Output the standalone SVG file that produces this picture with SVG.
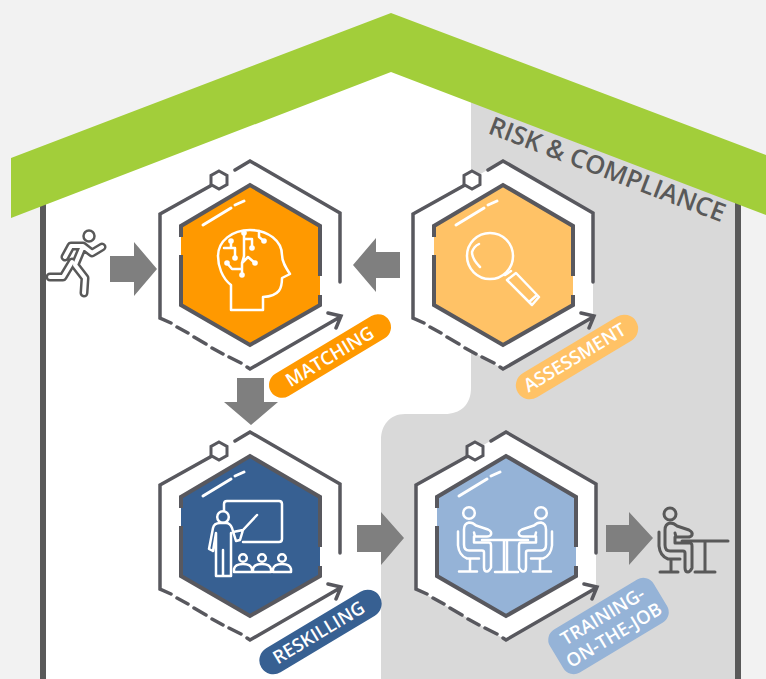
<svg xmlns="http://www.w3.org/2000/svg" width="766" height="679" viewBox="0 0 766 679">
<style>
.shell{fill:none;stroke:#58585e;stroke-width:3.500;stroke-linecap:round;stroke-linejoin:miter}
.lab{font-family:"Open Sans","Liberation Sans",sans-serif;font-weight:600;fill:#fff;text-anchor:middle;font-size:18.500px}
.ico{fill:none;stroke:#fff;stroke-width:2.500;stroke-linecap:round;stroke-linejoin:round}
.dot{fill:#fff;stroke:none}
.arr{fill:#7f7f7f}
.ol{fill:none;stroke:#595959;stroke-width:9;stroke-linecap:round;stroke-linejoin:round}
.il{fill:none;stroke:#fff;stroke-width:4;stroke-linecap:round;stroke-linejoin:round}
.sit{fill:none;stroke-width:3;stroke-linecap:round;stroke-linejoin:round}
</style>
<defs>
<g id="shell">
<polygon points="250,161 340,213 340,316 250,369 160,318 160,213" fill="#fff"/>
<path class="shell" d="M235,170L250,161L340,213V282M212,185L160,214V318L171,323M177,327L188,333M194,337L206,344M212,348L223,354M229,357L241,363M247,367L250,369L340,317M328,313L341,316L336,328"/>
<polygon points="219,171 227,175.500 227,184.500 219,189 211,184.500 211,175.500" fill="#fff" stroke="#58585e" stroke-width="3"/>
</g>
<g id="inner">
<path d="M250,185L320,226V305L250,345L181,305V226Z" stroke="none"/>
<path fill="none" stroke="#58585e" stroke-width="4" d="M181,237V226L250,185L320,226V276M320,295V305L250,345L181,305V255"/>
<path fill="none" stroke="#fff" stroke-width="3" stroke-linecap="round" d="M203,225L231,208M235,205L244,201"/>
</g>
<path id="figure" d="M659,532V546Q660,556 668,559H680M671,560V572M660,572H678M665,545V530Q665,524 670,523Q674,523 677,526L689,530Q693,532 692,535Q691,537 688,537H676L675,533M675,537V543H690Q692,543 692,546V568Q690,572 688,572Q685,572 685,568V553Q685,551 683,551H670Q665,551 665,545"/>
</defs>
<rect width="766" height="679" fill="#f2f2f2"/>
<polygon points="46,679 46,200 391,60 736,200 736,679" fill="#fff"/>
<path d="M471,90V388C471,405 460,414 445,414H405C390,414 381,425 381,440V679H735V200Z" fill="#d9d9d9"/>
<rect x="40" y="190" width="6" height="489" fill="#595959"/>
<rect x="735" y="190" width="6" height="489" fill="#595959"/>
<polygon points="391,13 766,155 766,215 391,72 11,218 11,158" fill="#a2ce3a"/>
<text transform="translate(487,133) rotate(20.900)" font-family="'Open Sans','Liberation Sans',sans-serif" font-weight="600" font-size="25.500" fill="#595959">RISK &amp; COMPLIANCE</text>

<g id="connectors">
<polygon class="arr" points="110,256 134,256 134,242 157,269 134,296 134,282 110,282"/>
<polygon class="arr" points="400,252 376,252 376,238 353,265 376,292 376,278 400,278"/>
<polygon class="arr" points="237,378 264,378 264,402 278,402 251,425 224,402 237,402"/>
<polygon class="arr" points="357,525 381,525 381,512 404,538 381,565 381,552 357,552"/>
<polygon class="arr" points="606,525 629,525 629,512 653,538 629,565 629,552 606,552"/>
</g>

<g id="runner">
<circle cx="89" cy="236" r="5.500" fill="#fff" stroke="#595959" stroke-width="2.500"/>
<path class="ol" d="M83,246H71L65,257M83,246L92,253L102,247M83,246L75,265L85,278L84,293M72,262L63,277H50"/>
<path class="il" d="M83,246H71L65,257M83,246L92,253L102,247M83,246L75,265L85,278L84,293M72,262L63,277H50"/>
</g>

<g id="matching">
<use href="#shell"/>
<use href="#inner" fill="#ff9900"/>
<g class="ico">
<path d="M231,310V285C222,278 218,266 218,256C218,241 232,230 250,230C268,230 282,241 282,255C282,262 286,268 290,274L282,278C282,288 280,296 263,297V310Z"/>
<path d="M224,248H235V258M231,241V248M244,233V256L242,263V275M244,239H252V248M227,263L232,269H242M242,263L248,257L255,263M259,231V237L264,241"/>
</g>
<circle class="dot" cx="231" cy="241" r="2.800"/><circle class="dot" cx="235" cy="258" r="2.800"/><circle class="dot" cx="244" cy="233" r="2.800"/><circle class="dot" cx="252" cy="248" r="2.800"/><circle class="dot" cx="227" cy="263" r="2.800"/><circle class="dot" cx="242" cy="275" r="2.800"/><circle class="dot" cx="255" cy="263" r="2.800"/><circle class="dot" cx="264" cy="241" r="2.800"/>
<rect x="261" y="343" width="138" height="26" rx="13" transform="rotate(-31 330 356)" fill="#ff9900"/>
<text class="lab" transform="translate(333,362) rotate(-31)">MATCHING</text>
</g>

<g id="assessment">
<use href="#shell" x="253"/>
<use href="#inner" x="253" fill="#ffc266"/>
<g class="ico">
<circle cx="490" cy="256" r="23"/>
<path d="M480,267C475,262 472,257 472,252C473,249 475,246 479,244M505,275L511,271M507,280L516,273L539,297L532,305Z M529,302L537,295"/>
</g>
<rect x="508" y="343" width="138" height="28" rx="14" transform="rotate(-31 577 357)" fill="#ffc266"/>
<text class="lab" transform="translate(578,363) rotate(-31)">ASSESSMENT</text>
</g>

<g id="reskilling">
<use href="#shell" y="271"/>
<use href="#inner" y="271" fill="#376092"/>
<g class="ico">
<path d="M224,510V504Q224,501 227,501H279Q282,501 282,504V539Q282,542 279,542H243"/>
<circle cx="223" cy="517" r="5.800"/>
<path d="M213,551L209,549L213,528Q214,523 220,523H226Q230,523 232,528L236,541L240,540L243,530L257,515M233,532L243,530M213,551L216,533V576H231V533M223,550V576"/>
<circle cx="243" cy="558" r="3.800"/><circle cx="262" cy="558" r="3.800"/><circle cx="282" cy="558" r="3.800"/>
<path d="M234,572V569Q235,564 243,564Q251,564 252,569V572ZM253,572V569Q254,564 262,564Q270,564 271,569V572ZM273,572V569Q274,564 282,564Q290,564 291,569V572Z"/>
</g>
<rect x="251.500" y="618" width="138" height="28" rx="14" transform="rotate(-31 320.500 632)" fill="#376092"/>
<text class="lab" transform="translate(322,638) rotate(-31)">RESKILLING</text>
</g>

<g id="training">
<use href="#shell" x="256" y="271"/>
<use href="#inner" x="256" y="271" fill="#95b3d7"/>
<g class="sit" stroke="#fff" style="stroke-width:2.500">
<use href="#figure" transform="translate(-201,-0.500)"/>
<use href="#figure" transform="matrix(-1 0 0 1 1211 -0.500)"/>
<circle cx="469" cy="513" r="5.800"/><circle cx="541" cy="513" r="5.800"/>
<path d="M482,540H528M504,541V572M507,541V572M495,572H518"/>
</g>
<rect x="548" y="601" width="121" height="50" rx="12" transform="rotate(-31 608.500 626)" fill="#95b3d7"/>
<text class="lab" transform="translate(608.500,626) rotate(-31)"><tspan x="0" y="-5">TRAINING-</tspan><tspan x="0" y="17">ON-THE-JOB</tspan></text>
</g>

<g id="sitter" class="sit" stroke="#595959">
<circle cx="670" cy="514" r="6"/>
<use href="#figure"/>
<path d="M682,541H728M705,541V572M695,572H715"/>
</g>
</svg>
